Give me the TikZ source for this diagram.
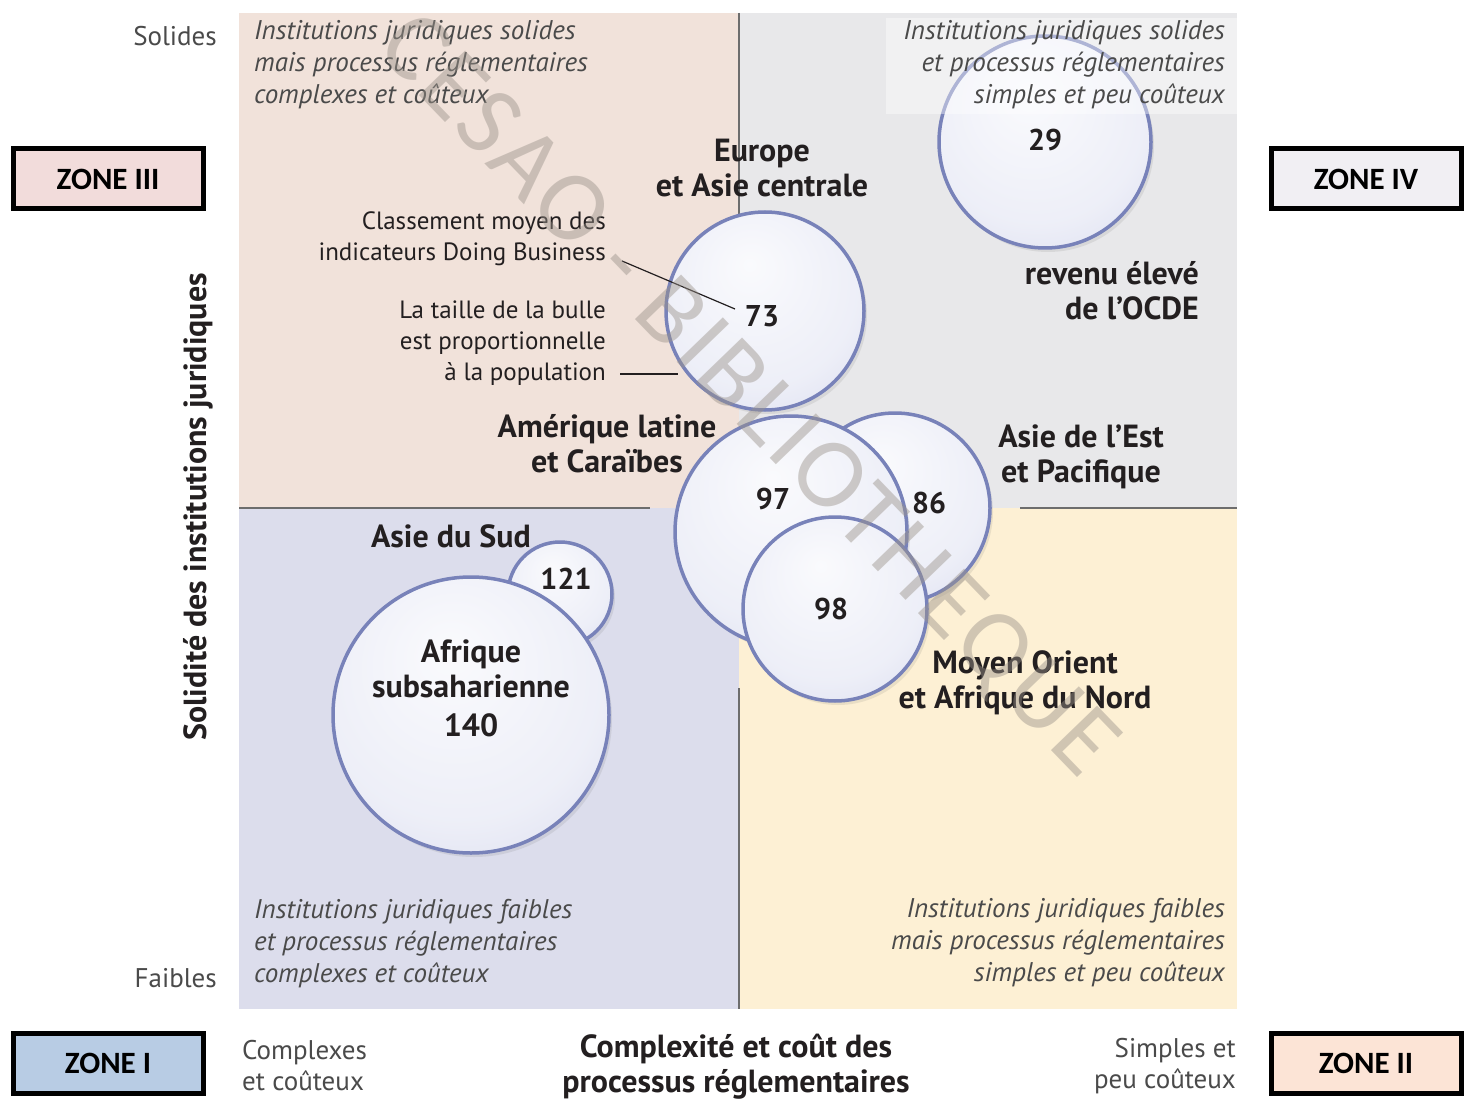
\documentclass[tikz,border=0pt]{standalone}
\usepackage{fontspec}
\setmainfont{PT Sans}
\newfontfamily\zonefont{Carlito}
\newfontfamily\markfont[LetterSpace=4]{Carlito}
\usetikzlibrary{shadows}

\definecolor{qTL}{HTML}{F1E2DA}
\definecolor{qTR}{HTML}{E8E8EA}
\definecolor{qBL}{HTML}{DCDDEC}
\definecolor{qBR}{HTML}{FDF0D4}
\definecolor{divider}{HTML}{6D6D6D}
\definecolor{bubblecol}{HTML}{BFC4E4}
\definecolor{bubbleline}{HTML}{7882B9}
\definecolor{labeltext}{HTML}{231F20}
\definecolor{notetext}{HTML}{4A4A4A}
\definecolor{zoneIfill}{HTML}{B8CCE4}
\definecolor{zoneIIfill}{HTML}{FCE4D6}
\definecolor{zoneIIIfill}{HTML}{F2DCDB}
\definecolor{zoneIVfill}{HTML}{F1EFF3}
\definecolor{markcol}{HTML}{9A928A}

\pgfdeclareradialshading{bubbleshade}{\pgfpoint{-4bp}{12bp}}{%
  color(0bp)=(white!92!bubblecol);
  color(26bp)=(white!72!bubblecol);
  color(46bp)=(white!30!bubblecol);
  color(56bp)=(bubblecol)}

\tikzset{
  bubble/.style={circle, draw=bubbleline, line width=3.5pt, shading=bubbleshade,
    minimum size=#1, inner sep=0pt,
    drop shadow={shadow xshift=3pt, shadow yshift=-4pt, opacity=0.13, fill=black!60}},
  quadnote/.style={font=\itshape\fontsize{27}{32}\selectfont, text=notetext, inner sep=0pt},
  region/.style={font=\bfseries\fontsize{32}{35}\selectfont, text=labeltext, inner sep=0pt, align=center},
  number/.style={font=\bfseries\fontsize{30}{35}\selectfont, text=labeltext, inner sep=0pt},
  sidenote/.style={font=\fontsize{25}{31}\selectfont, text=labeltext, inner sep=0pt, align=right},
  axisend/.style={font=\fontsize{27}{31}\selectfont, text=notetext, inner sep=0pt},
  zonebox/.style={draw=black, line width=5pt, minimum width=190pt, minimum height=60pt,
    font=\zonefont\bfseries\fontsize{31}{33}\selectfont, text=black},
  pointer/.style={draw=labeltext, line width=1.2pt},
}

\begin{document}
\begin{tikzpicture}[x=1pt, y=-1pt]
\useasboundingbox (0,0) rectangle (1472,1099);
\fill[white] (0,0) rectangle (1472,1099);

% four quadrants
\fill[qTL] (239,13) rectangle (739,508);
\fill[qTR] (739,13) rectangle (1237,508);
\fill[qBL] (239,508) rectangle (739,1009);
\fill[qBR] (739,508) rectangle (1237,1009);

% dividers
\draw[divider, line width=2pt] (739,13) -- (739,300);
\draw[divider, line width=2pt] (739,688) -- (739,1009);
\draw[divider, line width=2pt] (239,508) -- (650,508);
\draw[divider, line width=2pt] (1020,508) -- (1237,508);

% bubbles
\node[bubble=212pt] (b29) at (1045,142) {};
\node[bubble=198pt] (b73) at (765,311) {};
\node[bubble=190pt] (b86) at (895,508) {};
\node[bubble=232pt] (b97) at (791,532) {};
\node[bubble=184pt] (b98) at (835,609) {};
\node[bubble=104pt] (b121) at (560,594) {};
\node[bubble=276pt] (b140) at (471,715) {};

% light veil behind the top right description
\fill[white, opacity=0.4] (886,18) rectangle (1237,114);

% quadrant descriptions
\node[quadnote, anchor=north west, align=left] (qnTL) at (254,20)
  {Institutions juridiques solides\\mais processus réglementaires\\complexes et coûteux};
\node[quadnote, anchor=north east, align=right] (qnTR) at (1225,20)
  {Institutions juridiques solides\\et processus réglementaires\\simples et peu coûteux};
\node[quadnote, anchor=north west, align=left] (qnBL) at (254,899)
  {Institutions juridiques faibles\\et processus réglementaires\\complexes et coûteux};
\node[quadnote, anchor=north east, align=right] (qnBR) at (1225,898)
  {Institutions juridiques faibles\\mais processus réglementaires\\simples et peu coûteux};

% bubble values
\node[number] (n29) at (1045,140) {29};
\node[number] (n73) at (762,316) {73};
\node[number] (n97) at (773,499) {97};
\node[number] (n86) at (929,503) {86};
\node[number] (n98) at (831,609) {98};
\node[number] (n121) at (566,579) {121};

% region names
\node[region] (lEurope) at (762,168) {Europe\\et Asie centrale};
\node[region, align=right, anchor=east] (lOCDE) at (1199,291) {revenu élevé\\de l’OCDE};
\node[region] (lAmerique) at (607,444) {Amérique latine\\et Caraïbes};
\node[region] (lAsieEst) at (1081,457) {Asie de l’Est\\et Pacifique};
\node[region] (lAsieSud) at (451,536) {Asie du Sud};
\node[region] (lAfrique) at (471,688) {Afrique\\subsaharienne\\[4pt]140};
\node[region] (lMoyen) at (1025,683) {Moyen Orient\\et Afrique du Nord};

% legend notes
\node[sidenote, anchor=east] (legRank) at (606,239) {Classement moyen des\\indicateurs Doing Business};
\node[sidenote, anchor=east] (legSize) at (606,343) {La taille de la bulle\\est proportionnelle\\à la population};
\coordinate (rankEnd) at (735,309);
\coordinate (rankStart) at (622,261);
\coordinate (sizeStart) at (620,374);
\coordinate (sizeEnd) at (678,374);
\draw[pointer] (rankStart) -- (rankEnd);
\draw[pointer] (sizeStart) -- (sizeEnd);

% axes
\node[axisend, anchor=east] (ySolides) at (217,36) {Solides};
\node[axisend, anchor=east] (yFaibles) at (217,978) {Faibles};
\node[axisend, anchor=west, align=left] (xComplexes) at (242,1066) {Complexes\\et coûteux};
\node[axisend, anchor=east, align=right] (xSimples) at (1236,1066) {Simples et\\peu coûteux};
\node[region] (xTitle) at (736,1067) {Complexité et coût des\\processus réglementaires};
\node[region, rotate=90] (yTitle) at (198,507) {Solidité des institutions juridiques};

% zone boxes
\node[zonebox, fill=zoneIIIfill] (zIII) at (108,179) {ZONE III};
\node[zonebox, fill=zoneIVfill] (zIV) at (1366,179) {ZONE IV};
\node[zonebox, fill=zoneIfill] (zI) at (108,1063) {ZONE I};
\node[zonebox, fill=zoneIIfill] (zII) at (1366,1063) {ZONE II};

% library stamp across the chart
\node[font=\markfont\fontsize{100}{100}\selectfont, text=markcol, opacity=0.45,
  rotate=-46] (stamp) at (746,397) {CESAO - BIBLIOTHEQUE};
\end{tikzpicture}
\end{document}
